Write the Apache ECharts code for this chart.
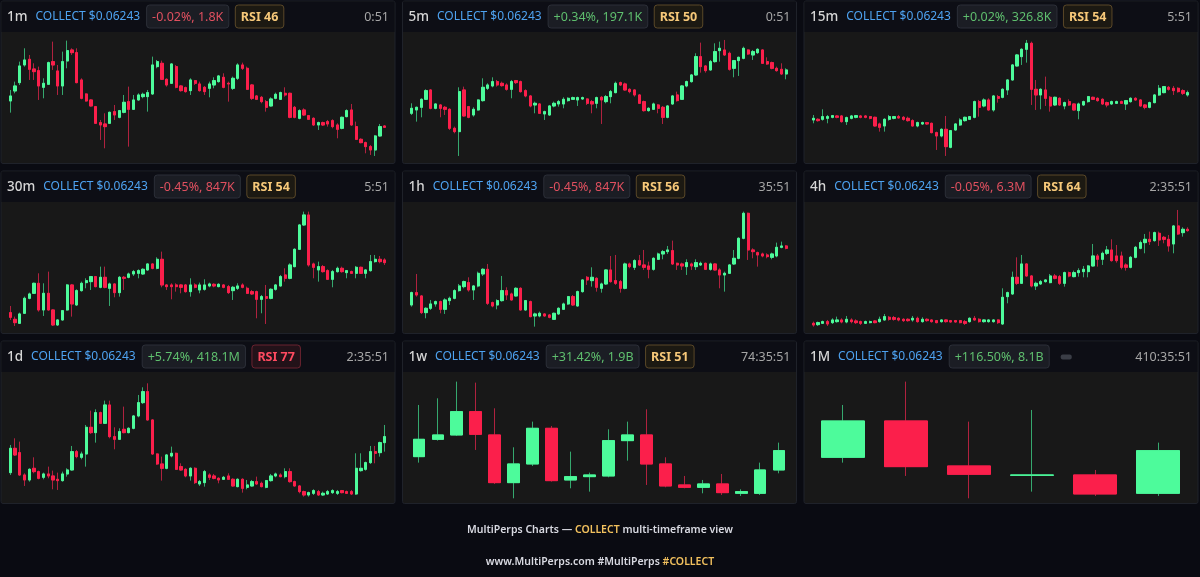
<!DOCTYPE html>
<html><head><meta charset="utf-8">
<script src="https://cdn.jsdelivr.net/npm/echarts@6/dist/echarts.min.js"></script>
<style>html,body{margin:0;padding:0;background:#0a0b12;}#c{width:1200px;height:577px;}</style>
</head><body><div id="c"></div>
<script>
// ---- header texts ----
const timeframes = ['1m','5m','15m','30m','1h','4h','1d','1w','1M'];
const symbolLabel = 'COLLECT $0.06243';
const changeLabels = ['-0.02%, 1.8K','+0.34%, 197.1K','+0.02%, 326.8K','-0.45%, 847K','-0.45%, 847K','-0.05%, 6.3M','+5.74%, 418.1M','+31.42%, 1.9B','+116.50%, 8.1B'];
const changeUp = [false,true,true,false,false,false,true,true,true];
const rsiLabels = ['RSI 46','RSI 50','RSI 54','RSI 54','RSI 56','RSI 64','RSI 77','RSI 51',''];
const rsiHot = [false,false,false,false,false,false,true,false,false];
const timers = ['0:51','0:51','5:51','5:51','35:51','2:35:51','2:35:51','74:35:51','410:35:51'];
const footerLine1 = ['MultiPerps Charts — ','COLLECT',' multi-timeframe view'];
const footerLine2 = ['www.MultiPerps.com #MultiPerps ','#COLLECT'];

// ---- candles: [open, close, low, high] in relative price units ----
const candles1m = [[187,202,152,220],[217,232,210,245],[242,292,235,305],[295,310,290,345],[312,282,250,325],[283,275,250,300],[278,232,190,290],[228,240,195,255],[237,302,235,305],[305,295,280,365],[277,232,205,295],[232,305,205,335],[307,338,285,368],[340,332,325,345],[332,242,240,345],[250,195,192,255],[208,187,185,210],[190,172,170,192],[170,120,118,172],[122,115,70,130],[118,110,45,150],[120,153,118,155],[155,145,130,175],[138,158,135,160],[153,183,150,205],[185,162,50,230],[162,190,160,205],[190,205,188,210],[200,207,195,212],[200,212,155,220],[208,295,205,320],[290,305,285,310],[300,252,250,308],[252,235,230,255],[240,298,238,300],[290,228,225,295],[232,218,215,235],[227,215,212,230],[218,250,205,255],[248,240,235,250],[238,218,215,245],[228,215,205,232],[225,238,198,245],[235,248,225,258],[245,262,242,265],[258,228,225,270],[240,238,185,245],[225,255,220,260],[255,295,250,300],[295,285,280,302],[285,222,220,290],[235,195,190,238],[202,192,190,205],[198,185,180,202],[185,168,155,190],[172,193,170,198],[195,207,192,212],[192,212,190,215],[210,205,200,228],[210,138,135,212],[168,138,135,172],[135,158,132,162],[160,145,142,165],[143,132,130,145],[135,115,112,138],[115,122,100,125],[122,115,112,125],[125,118,110,130],[128,110,105,132],[115,102,75,120],[105,138,102,140],[140,158,138,162],[160,115,112,178],[110,72,70,125],[72,62,60,75],[62,50,30,65],[50,40,25,55],[40,82,22,85],[82,110,80,118],[112,108,106,114]];
const candles5m = [[150,165,145,180],[160,168,125,170],[168,192,138,195],[192,218,190,222],[220,165,162,222],[165,178,162,180],[175,165,138,178],[168,162,145,172],[162,105,100,165],[105,95,90,110],[95,215,22,228],[220,142,140,230],[170,138,135,172],[145,162,140,168],[160,190,158,192],[188,228,185,255],[225,235,220,240],[232,245,228,258],[245,235,230,250],[240,233,230,245],[235,222,218,240],[222,245,195,250],[248,242,238,250],[245,215,212,248],[218,202,198,222],[202,172,168,205],[175,180,150,185],[178,150,148,180],[148,155,130,158],[145,172,142,175],[172,180,168,185],[178,185,170,190],[178,192,165,198],[188,195,185,198],[192,197,190,200],[190,197,172,200],[193,197,190,200],[193,180,175,195],[185,178,150,190],[180,197,165,200],[198,190,118,202],[185,200,180,205],[200,215,180,220],[212,240,210,245],[242,235,232,245],[238,220,218,242],[222,215,210,225],[220,205,200,222],[205,180,178,208],[185,158,155,188],[158,165,155,168],[162,178,160,182],[175,165,150,178],[168,138,118,172],[138,172,135,175],[178,202,175,205],[205,188,185,215],[192,232,190,235],[232,245,228,248],[245,265,242,268],[265,320,262,330],[320,290,272,362],[292,278,272,295],[280,305,278,310],[305,335,302,360],[338,345,305,365],[340,325,322,370],[330,282,278,335],[285,308,258,310],[308,318,262,320],[315,345,312,350],[340,328,325,342],[325,335,310,340],[332,342,328,345],[340,300,298,342],[305,298,295,318],[302,285,282,305],[285,278,275,290],[282,268,265,300],[268,280,252,285]];
const candles15m = [[130,135,120,145],[132,128,125,135],[132,140,128,162],[135,140,120,145],[138,143,135,145],[142,138,135,145],[142,125,122,145],[125,137,115,140],[135,142,132,145],[138,143,135,145],[142,138,135,145],[142,138,135,145],[140,135,132,142],[138,112,110,140],[118,108,95,122],[112,132,95,135],[132,140,128,145],[135,140,132,142],[140,136,134,145],[138,132,128,142],[135,128,125,140],[128,112,110,132],[112,122,108,125],[118,122,115,125],[122,118,115,124],[120,92,90,122],[92,82,40,95],[82,102,78,105],[102,50,22,142],[48,98,45,100],[100,118,98,120],[115,130,112,135],[128,138,125,140],[132,140,130,142],[138,185,135,188],[185,168,140,190],[172,190,168,195],[190,160,158,195],[160,202,155,205],[200,195,182,205],[198,222,195,225],[220,250,205,252],[250,295,248,298],[292,325,290,328],[320,342,295,345],[342,360,302,370],[360,222,175,365],[222,205,160,250],[205,222,162,225],[220,195,172,260],[198,172,155,202],[175,198,172,200],[195,175,172,198],[172,182,162,185],[185,175,172,192],[178,160,158,180],[158,178,132,182],[175,185,172,188],[185,200,182,202],[198,192,190,200],[195,188,185,198],[192,178,175,195],[182,175,168,185],[178,185,175,188],[180,185,178,188],[185,180,178,188],[178,188,160,190],[185,195,182,198],[195,190,188,198],[190,172,170,192],[175,168,162,178],[168,182,165,185],[182,205,180,208],[205,225,202,235],[212,230,210,232],[228,222,218,232],[225,218,205,232],[225,215,212,228],[218,210,205,222],[205,212,200,218]];
const candles30m = [[62,48,40,82],[42,32,22,50],[30,58,28,62],[60,105,58,110],[105,118,102,122],[120,150,118,152],[150,70,65,180],[70,120,52,150],[120,70,68,185],[70,25,22,72],[25,40,22,42],[40,68,38,70],[70,145,68,148],[145,88,50,148],[85,128,82,132],[128,150,125,155],[152,158,135,165],[155,170,130,172],[170,140,138,172],[138,168,135,200],[168,138,135,200],[135,148,82,152],[148,122,108,150],[122,168,110,172],[168,165,130,172],[168,178,165,182],[178,185,172,190],[180,188,165,192],[178,192,175,195],[190,208,188,210],[208,195,192,210],[195,222,192,228],[222,145,138,245],[145,140,130,148],[145,140,102,150],[145,140,125,150],[145,138,120,148],[145,125,122,148],[125,145,110,165],[145,138,135,150],[130,145,120,152],[132,145,128,162],[142,148,138,152],[147,142,138,150],[140,147,138,150],[145,138,135,148],[140,122,118,145],[128,138,100,142],[135,142,130,150],[145,138,135,150],[135,120,118,140],[125,118,115,130],[125,102,45,128],[102,110,60,115],[110,105,28,145],[105,132,102,135],[132,145,128,148],[142,170,140,175],[175,165,155,195],[165,205,162,210],[200,252,198,255],[252,325,250,328],[325,355,322,365],[355,205,200,365],[208,198,165,212],[190,200,155,215],[200,185,182,205],[188,162,160,192],[162,185,138,190],[185,195,182,200],[195,185,182,200],[182,188,165,190],[185,180,178,188],[180,198,165,202],[198,180,178,200],[180,190,165,192],[188,215,185,235],[215,222,212,235],[222,215,210,232],[220,212,205,225]];
const candles1h = [[85,122,80,125],[122,115,110,178],[112,62,58,115],[62,75,45,78],[75,88,70,100],[88,95,80,98],[95,72,60,98],[72,100,58,105],[98,105,85,110],[105,128,102,132],[128,142,125,148],[140,155,135,158],[152,130,125,168],[130,142,100,145],[142,180,138,185],[178,192,172,195],[192,90,85,208],[92,82,78,95],[85,98,72,102],[98,128,95,172],[128,115,100,138],[118,100,98,122],[112,135,110,138],[135,70,68,138],[70,98,68,100],[95,50,48,98],[52,58,20,62],[52,60,48,65],[58,52,50,60],[55,48,45,58],[42,60,40,62],[58,75,55,78],[72,88,70,92],[88,110,85,112],[110,85,82,115],[82,125,80,128],[125,160,122,162],[168,160,145,172],[158,168,140,198],[165,138,125,168],[135,148,122,152],[148,190,145,192],[190,155,152,232],[158,150,145,235],[155,135,122,160],[135,208,132,212],[208,200,195,212],[198,218,190,222],[218,205,202,235],[205,198,190,250],[202,192,165,215],[192,225,188,228],[222,238,220,242],[238,245,222,250],[245,250,238,262],[248,208,205,278],[210,205,190,212],[208,202,190,212],[200,212,175,222],[208,202,190,212],[200,212,190,222],[205,210,202,215],[210,192,190,212],[192,208,188,212],[208,190,188,210],[190,175,135,195],[175,180,125,185],[180,205,178,208],[208,225,205,250],[225,285,222,288],[285,360,282,365],[360,250,220,362],[250,245,225,255],[242,235,200,245],[238,232,228,242],[235,230,225,240],[228,238,222,242],[232,258,228,272],[258,262,255,275],[262,255,252,265]];
const candles4h = [[30,25,20,35],[26,32,22,35],[30,35,28,38],[35,28,22,40],[32,40,28,45],[35,40,32,50],[40,34,30,45],[34,42,30,52],[40,35,30,45],[37,32,28,42],[35,30,25,38],[30,35,28,38],[32,35,30,38],[37,32,30,40],[35,42,32,50],[40,50,38,58],[48,42,38,52],[47,42,38,52],[45,40,36,48],[42,38,34,45],[42,38,35,45],[40,45,35,52],[45,35,32,50],[35,42,32,48],[42,38,35,45],[40,35,32,42],[38,32,30,40],[35,40,32,42],[40,35,32,42],[38,34,32,40],[38,34,32,40],[38,32,30,40],[35,30,25,40],[35,45,32,48],[45,40,38,52],[42,35,32,45],[35,40,32,42],[35,40,32,42],[35,40,32,42],[40,32,28,42],[28,108,25,135],[110,122,90,125],[118,168,115,185],[168,150,145,228],[150,208,148,235],[208,172,170,210],[172,142,138,175],[142,150,130,155],[148,155,145,160],[155,160,152,162],[152,172,150,178],[172,165,162,178],[170,150,145,175],[150,182,140,185],[182,172,168,185],[170,182,168,188],[182,188,170,195],[185,192,168,202],[185,202,168,205],[202,232,200,268],[232,222,200,238],[222,240,205,245],[240,250,235,262],[250,218,215,282],[232,218,212,265],[232,198,192,245],[205,198,188,210],[198,228,195,232],[228,258,225,262],[255,272,252,278],[272,282,240,298],[282,275,265,305],[278,302,275,305],[300,280,262,305],[288,282,270,292],[282,262,245,295],[268,322,240,325],[322,298,295,370],[302,312,290,318],[312,308,305,318]];
const candles1d = [[92,165,85,175],[165,145,142,195],[152,85,82,185],[85,70,52,90],[70,102,65,105],[105,95,90,138],[95,75,72,98],[78,88,72,92],[88,82,75,110],[82,70,42,98],[72,68,40,92],[68,88,65,95],[88,100,80,105],[100,155,98,172],[155,140,135,160],[138,148,132,155],[148,228,110,235],[228,212,208,278],[212,272,182,282],[272,240,238,275],[240,295,238,308],[295,200,195,308],[200,192,162,228],[192,215,190,225],[222,212,210,290],[212,225,210,228],[225,262,222,265],[262,302,258,325],[302,335,298,348],[335,250,248,360],[250,148,145,252],[148,118,115,150],[118,105,68,140],[105,145,102,148],[142,150,138,170],[150,102,100,152],[110,100,98,120],[102,82,78,105],[82,105,68,108],[105,62,58,108],[58,65,52,70],[62,95,50,100],[85,78,70,90],[82,75,72,88],[75,70,60,78],[72,78,70,82],[82,72,70,90],[72,52,50,75],[50,72,48,75],[72,45,32,75],[48,55,42,70],[52,65,50,70],[65,58,55,80],[60,50,48,65],[48,68,45,70],[68,82,65,88],[82,88,78,92],[85,80,78,90],[80,95,75,105],[95,65,62,105],[65,52,50,68],[52,35,30,55],[35,25,20,38],[25,32,20,35],[30,38,25,42],[35,25,22,40],[25,30,22,35],[28,35,25,40],[32,38,28,42],[30,35,25,40],[38,32,30,40],[35,30,28,38],[35,28,25,40],[28,105,25,150],[98,105,95,150],[102,122,98,125],[122,155,118,172],[155,150,120,172],[152,182,140,185],[182,200,155,235]];
const candles1w = [[140,192,122,295],[192,205,188,315],[205,275,202,365],[275,207,160,362],[205,62,58,285],[62,118,15,168],[118,225,112,245],[225,68,65,232],[70,80,45,155],[80,85,35,92],[82,188,78,222],[188,205,128,245],[205,118,55,282],[118,52,48,138],[55,48,45,82],[48,58,30,70],[58,32,25,88],[30,35,22,42],[30,100,25,122],[100,158,90,182]];
const candles1M = [[138,247,122,295],[247,110,82,365],[112,87,15,245],[84,85,35,280],[85,28,22,100],[30,158,22,182]];

const allCandles = [candles1m,candles5m,candles15m,candles30m,candles1h,candles4h,candles1d,candles1w,candles1M];
const bodyWidths = ['58%','58%','58%','58%','58%','58%','58%','65%','69%'];

// ---- style / layout ----
const PAGE_BG = '#0a0b12', HEAD_BG = '#0d0e15', CHART_BG = '#181818', BORDER = '#1f222a';
const GREEN = '#4dfb9b', RED = '#fb1f4b', GREEN_W = '#35a86e', RED_W = '#b0223f';
const colLeft = [1, 402.5, 804], panelW = 394;
const rowOff = [0, 170, 340];
const FONT = '"Noto Sans", "DejaVu Sans", sans-serif';

const cvs = document.createElement('canvas').getContext('2d');
function tw(text, font){ cvs.font = font; return cvs.measureText(text).width; }

const chart = echarts.init(document.getElementById('c'), null, {renderer:'canvas'});
const grids = [], xAxes = [], yAxes = [], series = [], graphics = [];

for (let p = 0; p < 9; p++) {
  const col = p % 3, row = Math.floor(p / 3);
  const L = colLeft[col], T = rowOff[row];
  const data = allCandles[p];
  // panel background
  graphics.push({type:'rect', z:-10, shape:{x:L, y:T+1, width:panelW, height:162.5, r:2}, style:{fill:CHART_BG, stroke:BORDER, lineWidth:1}});
  graphics.push({type:'rect', z:-9, shape:{x:L+0.5, y:T+1.5, width:panelW-1, height:30.5}, style:{fill:HEAD_BG}});
  const cy = T + 17;
  // header texts
  const fTf = '500 13.5px ' + FONT, fSym = '12px ' + FONT, fBadge = '12.5px ' + FONT, fRsi = 'bold 12.5px ' + FONT;
  let x = L + 6;
  graphics.push({type:'text', x:x, y:cy, style:{text:timeframes[p], fill:'#d6d6d6', font:fTf, align:'left', verticalAlign:'middle'}});
  x += tw(timeframes[p], fTf) + 8;
  graphics.push({type:'text', x:x, y:cy, style:{text:symbolLabel, fill:'#4ea3f1', font:fSym, align:'left', verticalAlign:'middle'}});
  x += tw(symbolLabel, fSym) + 6.5;
  const w1 = tw(changeLabels[p], fBadge) + 11;
  graphics.push({type:'rect', shape:{x:x, y:T+5, width:w1, height:23, r:3}, style:{fill:'#1b1d24', stroke:'#2c2f38', lineWidth:1}});
  graphics.push({type:'text', x:x + w1/2, y:cy, style:{text:changeLabels[p], fill:changeUp[p] ? '#5fbf6e' : '#e0505f', font:fBadge, align:'center', verticalAlign:'middle'}});
  x += w1 + 6.5;
  if (rsiLabels[p]) {
    const w2 = tw(rsiLabels[p], fRsi) + 11;
    const hot = rsiHot[p];
    graphics.push({type:'rect', shape:{x:x, y:T+5, width:w2, height:23, r:3}, style:{fill: hot ? '#231219' : '#1c1912', stroke: hot ? '#6b2330' : '#5a4828', lineWidth:1}});
    graphics.push({type:'text', x:x + w2/2, y:cy, style:{text:rsiLabels[p], fill: hot ? '#ff4a60' : '#f6c879', font:fRsi, align:'center', verticalAlign:'middle'}});
  } else {
    graphics.push({type:'rect', shape:{x:x + 5, y:cy - 2.5, width:11, height:5, r:2}, style:{fill:'#3a3d46'}});
  }
  graphics.push({type:'text', x:L + panelW - 6, y:cy, style:{text:timers[p], fill:'#a6a6a6', font:'12.5px ' + FONT, align:'right', verticalAlign:'middle'}});

  // chart grid
  grids.push({left: L + 7, top: T + 32.3, width: 379, height: 131, show:false, containLabel:false});
  xAxes.push({type:'category', gridIndex:p, data:data.map((d,i)=>String(i+1)), boundaryGap:true, show:false});
  yAxes.push({type:'value', gridIndex:p, min:0, max:393, show:false, splitLine:{show:false}});
  series.push({
    type:'candlestick', xAxisIndex:p, yAxisIndex:p, barWidth:bodyWidths[p], silent:true, z:2,
    itemStyle:{color:GREEN_W, color0:RED_W, borderColor:GREEN_W, borderColor0:RED_W, borderWidth:1},
    data: data
  });
  series.push({
    type:'candlestick', xAxisIndex:p, yAxisIndex:p, barWidth:bodyWidths[p], silent:true, z:3,
    itemStyle:{color:GREEN, color0:RED, borderColor:GREEN, borderColor0:RED, borderWidth:1},
    data: data.map(d => [d[0], d[1], Math.min(d[0],d[1]), Math.max(d[0],d[1])])
  });
}

// footer
function footerLine(parts, colors, y, font){
  const widths = parts.map(t => tw(t, font));
  const total = widths.reduce((a,b)=>a+b, 0);
  let x = 600 - total/2;
  parts.forEach((t,i)=>{
    graphics.push({type:'text', x:x, y:y, style:{text:t, fill:colors[i], font:font, align:'left', verticalAlign:'middle'}});
    x += widths[i];
  });
}
footerLine(footerLine1, ['#d9dae2','#f2c15e','#d9dae2'], 530, '600 10.5px ' + FONT);
footerLine(footerLine2, ['#d9dae2','#f2c15e'], 562, '600 10.5px ' + FONT);

chart.setOption({
  backgroundColor: PAGE_BG,
  animation: false,
  grid: grids, xAxis: xAxes, yAxis: yAxes, series: series,
  graphic: graphics
});
</script></body></html>
